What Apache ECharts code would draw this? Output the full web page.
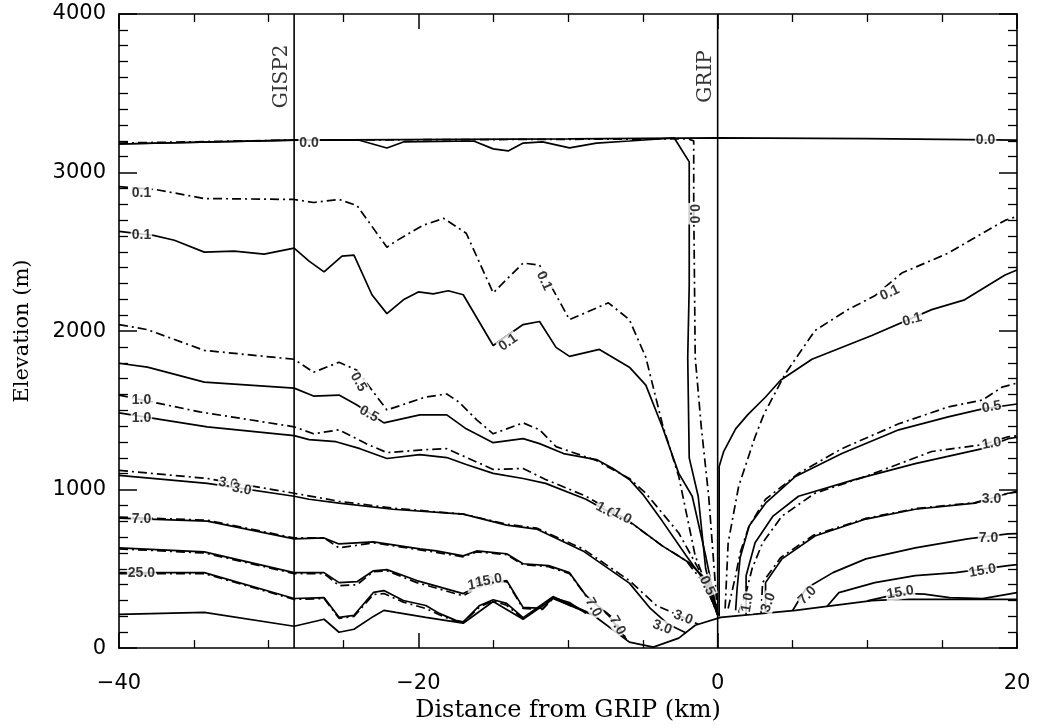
<!DOCTYPE html>
<html><head><meta charset="utf-8">
<script src="https://cdn.jsdelivr.net/npm/echarts@6/dist/echarts.min.js"></script>
<style>html,body{margin:0;padding:0;background:#fff}#c{width:1044px;height:728px}</style>
</head><body><div id="c"></div>
<script>
// ---- data (km, m) ----
const xRange = [-40, 20];
const yRange = [0, 4000];
const gisp2X = -28.3;
const gripX = 0;
const sites = [[-28.3, 3606, 'GISP2'], [0, 3606, 'GRIP']];

const surface = [[-40,3180],[-28.3,3205],[-10,3212],[0,3218],[10,3214],[20,3205]];
const bed = [[-40,213],[-34.3,225],[-28.3,138],[-26.3,182],[-25.3,100],[-24.3,119],[-23.0,200],[-22.3,238],[-21.5,225],[-19.5,194],[-17.0,157],[-15.0,294],[-13.0,182],[-11.0,313],[-8.3,207],[-5.9,38],[-4.3,6],[-2.6,63],[-1.5,144],[0.2,194],[5.2,238],[10.3,300],[12,307],[20,307]];

// left of GRIP, solid (s) and dash-dot (dd) contours
const dd00L = [[-40,3186],[-28.3,3205],[-15,3208],[-2,3212],[-1.6,3200],[-1.6,2800],[-1.5,1834],[-1.1,1400],[-0.6,958],[-0.1,332],[0,210]];
const s00L = [[-40,3180],[-28.3,3205],[-24,3205],[-22.1,3155],[-21,3193],[-16.3,3199],[-15.0,3149],[-14.0,3136],[-13.0,3186],[-11.7,3193],[-9.9,3155],[-8.1,3186],[-5.9,3199],[-2.9,3218],[-1.9,3067],[-1.9,2290],[-2.0,1834],[-1.9,1200],[-1.3,958],[-0.8,500],[0,210]];
const dd01L = [[-40,2911],[-37.5,2892],[-34.3,2836],[-28.3,2830],[-27.0,2811],[-25.3,2830],[-24.1,2792],[-22.1,2529],[-21.5,2567],[-19.7,2667],[-18.3,2711],[-16.8,2617],[-15.0,2241],[-13.0,2429],[-11.9,2416],[-9.9,2072],[-7.3,2178],[-5.9,2072],[-4.8,1834],[-3.7,1415],[-2.6,1083],[-1.5,582],[-0.5,332],[0,210]];
const s01L = [[-40,2629],[-37.7,2604],[-36.3,2573],[-34.3,2498],[-32.3,2504],[-30.3,2485],[-28.3,2523],[-27.3,2441],[-26.3,2373],[-25.1,2473],[-24.3,2479],[-23.1,2229],[-22.1,2110],[-21.0,2197],[-20.0,2247],[-19.0,2235],[-18.0,2254],[-17.0,2229],[-15.0,1909],[-13.0,2041],[-11.9,2060],[-10.8,1897],[-9.9,1840],[-7.9,1884],[-5.9,1772],[-4.8,1659],[-3.7,1396],[-2.6,1102],[-1.7,958],[-0.8,582],[0,210]];
const dd05L = [[-40,2041],[-38.1,2009],[-34.3,1878],[-28.3,1822],[-27.0,1740],[-25.3,1803],[-24.1,1753],[-22.1,1502],[-19.5,1584],[-18.1,1603],[-17.3,1553],[-16.1,1440],[-15.0,1352],[-13.0,1421],[-11.9,1377],[-10.8,1271],[-8.1,1183],[-5.9,1070],[-4.8,977],[-2.6,726],[-1.5,538],[-0.7,394],[0,210]];
const s05L = [[-40,1797],[-38.1,1772],[-34.3,1678],[-28.3,1640],[-27.0,1590],[-25.3,1596],[-24.1,1534],[-22.3,1421],[-19.9,1471],[-18.1,1471],[-16.8,1383],[-15.0,1296],[-13.0,1321],[-11.9,1290],[-10.3,1227],[-8.1,1189],[-7.0,1133],[-5.9,1064],[-5.0,970],[-3.7,801],[-2.1,582],[-0.9,426],[0,210]];
const dd10L = [[-40,1596],[-34.6,1490],[-28.3,1396],[-27.0,1352],[-25.3,1377],[-23.5,1290],[-22.1,1233],[-19.5,1252],[-18.1,1258],[-15.0,1127],[-13.0,1133],[-11.5,1064],[-8.8,958],[-6.7,845],[-5.5,770],[-3.7,645],[-2.1,551],[-0.8,394],[0,210]];
const s10L = [[-40,1484],[-34.1,1396],[-28.3,1340],[-27.3,1315],[-25.5,1302],[-23.9,1258],[-22.1,1196],[-19.9,1221],[-18.1,1202],[-16.8,1158],[-15.0,1102],[-13.0,1070],[-11.5,1039],[-8.8,939],[-7.6,876],[-6.1,814],[-3.7,645],[-1.9,538],[-0.7,426],[0,210]];
const dd30L = [[-40,1121],[-34.1,1070],[-28.3,977],[-25.3,926],[-21.7,883],[-17.0,845],[-14.1,782],[-12.1,757],[-9.0,626],[-5.9,426],[-4.1,269],[-2.3,194],[-1.3,150]];
const s30L = [[-40,1089],[-34.1,1039],[-28.3,958],[-27.3,939],[-25.3,914],[-21.7,876],[-17.0,845],[-14.1,776],[-12.1,751],[-9.0,613],[-5.9,410],[-4.5,250],[-3.3,150],[-2.1,95]];
const s70L = [[-40,820],[-34.1,801],[-28.3,689],[-26.3,695],[-25.3,657],[-23.0,670],[-19.9,626],[-18.8,613],[-17.0,582],[-16.1,613],[-14.1,595],[-13.0,532],[-11.3,520],[-9.9,476],[-8.8,332],[-7.3,207],[-6.1,55]];
const dd70L = [[-40,826],[-34.1,807],[-28.3,695],[-26.3,695],[-25.3,632],[-23.0,664],[-19.9,620],[-17.0,576],[-16.1,607],[-14.1,590],[-13.0,526],[-11.3,514],[-9.9,470],[-8.8,330],[-7.0,190],[-6.0,45]];
const s150L = [[-40,632],[-34.3,607],[-28.3,476],[-26.3,476],[-25.3,413],[-24.1,419],[-23.0,488],[-22.1,495],[-20.1,426],[-17.0,344],[-15.8,400],[-14.1,426],[-13.0,257],[-11.7,250],[-11.0,319],[-9.9,288],[-8.8,219]];
const dd150L = [[-40,626],[-34.3,600],[-28.3,470],[-26.3,470],[-25.3,394],[-24.1,400],[-23.0,482],[-22.1,488],[-20.1,413],[-17.0,330],[-15.5,410],[-14.1,420],[-13.0,250],[-11.7,244],[-11.0,313],[-9.9,282],[-8.8,222]];
const s250L = [[-40,476],[-34.3,476],[-28.3,313],[-26.3,319],[-25.3,194],[-24.3,207],[-23.0,351],[-22.3,363],[-21.0,300],[-19.5,269],[-18.6,219],[-17.5,175],[-17.0,165],[-15.9,269],[-15.0,305],[-14.1,282],[-13.0,192],[-11.0,325],[-9.7,269],[-8.3,210]];
const dd250L = [[-40,470],[-34.3,470],[-28.3,307],[-26.3,313],[-25.3,188],[-24.3,200],[-23.0,338],[-22.3,344],[-21.0,290],[-19.5,250],[-18.6,210],[-17.5,170],[-17.0,162],[-15.9,260],[-15.0,298],[-14.1,270],[-13.0,186],[-11.0,318],[-9.7,262],[-8.3,208]];

// right of GRIP
const s01R = [[0.1,200],[0.1,1146],[0.4,1240],[1.2,1383],[2.0,1471],[3.2,1584],[4.2,1690],[6.3,1822],[10.3,1972],[14.3,2135],[16.5,2197],[19.2,2354],[20,2385]];
const dd01R = [[0.5,250],[0.7,664],[1.4,1020],[2.5,1333],[3.1,1477],[4.5,1728],[6.5,2003],[8.7,2135],[10.5,2222],[12.3,2366],[15.4,2491],[17.7,2617],[19.2,2698],[20,2723]];
const dd05R = [[0.7,250],[1.2,457],[1.5,601],[2.1,770],[3.2,939],[5.4,1102],[8.3,1258],[12.1,1415],[15.4,1521],[17.7,1565],[19.0,1646],[20,1672]];
const s05R = [[1.2,238],[1.3,376],[1.5,570],[2.1,770],[3.2,914],[5.2,1083],[8.3,1227],[12.1,1377],[15.4,1459],[17.7,1509],[20,1540]];
const dd10R = [[1.4,225],[1.9,351],[2.3,501],[3.0,664],[4.3,833],[6.5,977],[9.9,1083],[14.3,1240],[17.7,1283],[19.4,1333],[20,1340]];
const s10R = [[1.9,212],[1.9,457],[2.5,664],[3.7,833],[5.4,958],[9.2,1064],[13.2,1164],[17.7,1258],[19.4,1321],[20,1330]];
const s30R = [[3.2,218],[3.2,413],[4.3,563],[6.5,707],[9.9,814],[13.2,876],[17.2,914],[19.4,977],[20,983]];
const dd30R = [[2.9,215],[3.0,413],[4.2,570],[6.4,712],[9.9,818],[13.2,880],[17.2,918],[20,990]];
const s70R = [[5.0,236],[5.9,376],[7.7,476],[9.9,563],[13.2,632],[16.7,689],[19.4,720],[20,722]];
const s150R = [[7.3,262],[8.1,350],[10.5,413],[13.2,457],[15.9,476],[19.4,520],[20,526]];
const s150R2 = [[10.0,298],[12.2,345],[13.8,340],[15.5,318],[17.7,312],[20,350]];

// contour labels: [km, m, text]
const contourLabels = [
  [-27.3,3186,'0.0'],[17.9,3205,'0.0'],[-1.6,2740,'0.0'],
  [-38.5,2873,'0.1'],[-38.5,2604,'0.1'],[-11.6,2316,'0.1'],[-14.0,1928,'0.1'],[11.5,2241,'0.1'],[13.0,2072,'0.1'],
  [-24.0,1678,'0.5'],[-23.3,1477,'0.5'],[-0.7,394,'0.5'],[18.3,1521,'0.5'],
  [-38.5,1565,'1.0'],[-38.5,1452,'1.0'],[-7.5,870,'1.0'],[-6.4,833,'1.0'],[18.3,1290,'1.0'],[2.0,288,'1.0'],
  [-32.7,1039,'3.0'],[-31.8,1002,'3.0'],[-3.7,132,'3.0'],[-2.3,194,'3.0'],[18.3,939,'3.0'],[3.4,288,'3.0'],
  [-38.5,814,'7.0'],[-8.3,257,'7.0'],[-6.7,144,'7.0'],[18.1,695,'7.0'],[6.0,332,'7.0'],
  [-38.5,470,'25.0'],[-15.8,407,'15.0'],[-15.3,426,'15.0'],[17.7,488,'15.0'],[12.2,351,'15.0']
];
const labelAngles = [0,0,-90, 0,0,-65,35,25,15, -60,-30,-65,10, 0,0,-30,-30,10,80, -10,-10,-20,-20,0,70, 0,-60,-60,0,45, 0,10,10,10,10];

// ---- build ----
const solidLines = [surface, bed, s00L, s01L, s05L, s10L, s30L, s70L, s150L, s250L, s01R, s05R, s10R, s30R, s70R, s150R, s150R2];
const dashLines = [dd00L, dd01L, dd05L, dd10L, dd30L, dd70L, dd150L, dd250L, dd01R, dd05R, dd10R, dd30R];

const series = [];
solidLines.forEach(d => series.push({type:'line', data:d, showSymbol:false, symbol:'none', silent:true,
  lineStyle:{color:'#000', width:1.7}, z:3}));
dashLines.forEach(d => series.push({type:'line', data:d, showSymbol:false, symbol:'none', silent:true,
  lineStyle:{color:'#000', width:1.7, type:[9,4,2,4]}, z:3}));
[gisp2X, gripX].forEach(x => series.push({type:'line', data:[[x,yRange[0]],[x,yRange[1]]], showSymbol:false, symbol:'none', silent:true,
  lineStyle:{color:'#000', width:1.6}, z:4}));

series.push({type:'scatter', symbolSize:0, silent:true, z:6,
  data: contourLabels.map((d,i) => ({value:[d[0],d[1]], name:d[2], label:{rotate:labelAngles[i]}})),
  label:{show:true, position:'inside', formatter:p=>p.name, color:'#000', fontFamily:'Liberation Sans',
    fontWeight:'bold', fontSize:14, backgroundColor:'#fff', padding:[0,1]}});
series.push({type:'scatter', symbolSize:0, silent:true, z:6,
  data: sites.map(d => ({value:[d[0],d[1]], name:d[2]})),
  label:{show:true, position:'inside', rotate:90, offset:[0,-12], formatter:p=>p.name, color:'#000',
    fontFamily:'DejaVu Serif', fontSize:20}});

const axisCommon = {
  type:'value', splitLine:{show:false},
  axisLine:{show:true, onZero:false, lineStyle:{color:'#000', width:1.6}},
  axisTick:{show:true, inside:true, lineStyle:{color:'#000', width:1.5}},
  minorTick:{show:true, lineStyle:{color:'#000', width:1.3}}
};
const minus = v => String(v).replace('-', '\u2212');
const xa = (pos, showLabel) => Object.assign({}, axisCommon, {
  min:xRange[0], max:xRange[1], interval:20, position:pos,
  axisTick:Object.assign({}, axisCommon.axisTick, {length:15}),
  minorTick:Object.assign({}, axisCommon.minorTick, {splitNumber:4, length:8}),
  axisLabel:{show:showLabel, formatter:minus, color:'#000', fontFamily:'DejaVu Sans', fontSize:21, margin:25},
  name: showLabel ? 'Distance from GRIP (km)' : '', nameLocation:'middle', nameGap:47,
  nameTextStyle:{fontFamily:'DejaVu Serif', fontSize:24, color:'#000'}
});
const ya = (pos, showLabel) => Object.assign({}, axisCommon, {
  min:yRange[0], max:yRange[1], interval:1000, position:pos,
  axisTick:Object.assign({}, axisCommon.axisTick, {length:18}),
  minorTick:Object.assign({}, axisCommon.minorTick, {splitNumber:10, length:9}),
  axisLabel:{show:showLabel, formatter:v=>String(v), color:'#000', fontFamily:'DejaVu Sans', fontSize:21, margin:13, padding:[6,0,0,0]},
  name: showLabel ? 'Elevation (m)' : '', nameLocation:'middle', nameGap:86,
  nameTextStyle:{fontFamily:'DejaVu Serif', fontSize:21, color:'#000'}
});

const chart = echarts.init(document.getElementById('c'), null, {renderer:'canvas'});
chart.setOption({
  animation:false,
  backgroundColor:'#fff',
  grid:{left:119, right:27, top:14, bottom:74, containLabel:false},
  xAxis:[xa('bottom', true), xa('top', false)],
  yAxis:[ya('left', true), ya('right', false)],
  series: series
});
</script></body></html>
